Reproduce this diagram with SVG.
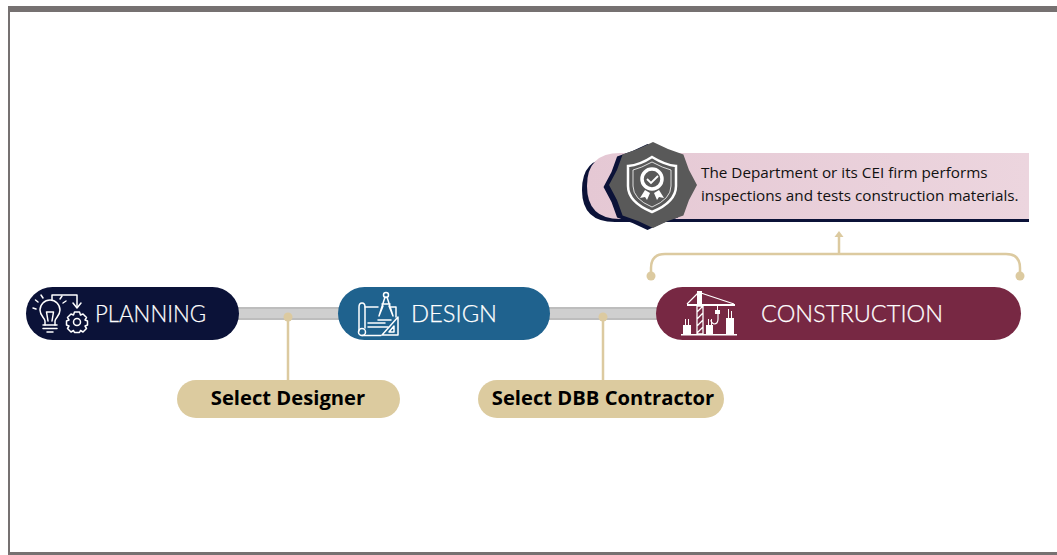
<svg xmlns="http://www.w3.org/2000/svg" width="1057" height="555" viewBox="0 0 1057 555">
<style>
.bar{fill:#cfcfcf;stroke:#bdbdbd;stroke-width:2}
.gold{fill:none;stroke:#dccaa0;stroke-width:2.5}
.dot{fill:#dccaa0}
.ic{fill:none;stroke:#fff;stroke-width:1.5;stroke-linejoin:round;stroke-linecap:round}
.lbl{font-family:"Lato","Inter",sans-serif;font-weight:300;font-size:23.5px;fill:#fff;stroke:#fff;stroke-width:0.25}
.tag{font-family:"Open Sans","Noto Sans",sans-serif;font-weight:700;font-size:20.2px;fill:#000;text-anchor:middle}
.body{font-family:"Open Sans","Noto Sans",sans-serif;font-size:15.27px;fill:#111}
</style>
<defs>
<linearGradient id="pink" x1="0" x2="1" y1="0" y2="0"><stop offset="0" stop-color="#e5c8d4"/><stop offset="1" stop-color="#ecd5de"/></linearGradient>
<polygon id="star" points="0,-43 15,-36 30.400,-30.400 36,-15 44,0 36,15 30.400,30.400 15,36 0,43 -15,36 -30.400,30.400 -36,15 -44,0 -36,-15 -30.400,-30.400 -15,-36"/>
</defs>
<rect width="1057" height="555" fill="#fff"/>
<g id="frame" fill="#767171">
<rect x="8" y="6" width="1049" height="6"/>
<rect x="8" y="6" width="2" height="549"/>
<rect x="8" y="552" width="1049" height="3"/>
</g>
<g id="connectors">
<rect class="bar" x="230" y="308" width="120" height="11"/>
<rect class="bar" x="540" y="308" width="125" height="11"/>
<path class="gold" d="M288 317V381M603 317V381"/>
<circle class="dot" cx="288" cy="317" r="4.500"/>
<circle class="dot" cx="603" cy="317" r="4.500"/>
<path class="gold" d="M651 276V268Q651 254 665 254H1006Q1020 254 1020 268V276M839 254V236"/>
<circle class="dot" cx="651" cy="276" r="4.500"/>
<circle class="dot" cx="1020" cy="276" r="4.500"/>
<path class="dot" d="M839 231L843.500 237H834.500Z"/>
</g>
<g id="node-planning">
<rect x="26" y="287" width="213" height="53" rx="26.500" fill="#0b1238"/>
<g class="ic">
<path d="M45 325V321C45 318 40 316 40 310A10 10 0 0 1 60 310C60 316 55 318 55 321V325"/>
<path d="M43 325H57M43 328.500H57M47 332H53M48 321L46.500 312H53.500L52 321"/>
<path d="M36 309L33 308M38 302L35.500 300M43 298L41 295M60 299L62 296M63 303L66 301"/>
<path d="M52 300V295H77V307"/>
<path d="M73 303L77 308L81 303"/>
<circle cx="77" cy="322" r="3.500"/>
<path d="M74.500 312H79.500L80.500 315L83 314L86.500 317.500L85 320L87.500 321V325L85 326L86.500 328.500L83 332L80.500 330.500L79.500 332.500H74.500L73.500 330.500L71 332L67.500 328.500L69 326L66.500 325V321L69 320L67.500 317.500L71 314L73.500 315Z"/>
</g>
<text class="lbl" x="95" y="322" textLength="111" lengthAdjust="spacingAndGlyphs">PLANNING</text>
</g>
<g id="node-design">
<rect x="338" y="287" width="212" height="53" rx="26.500" fill="#1f628e"/>
<g class="ic">
<path d="M359 331V307Q359 303 362 303Q365 303 365 307V328"/>
<path d="M365 307H378M391 307H396V317"/>
<circle cx="362" cy="332" r="3.500"/>
<path d="M362 335.500H381M368 323H385M378 320H391M368 327H388"/>
<circle cx="386" cy="295" r="2.500"/>
<path d="M385 297L379 316L383 306M387 297L393 316L389 306M382 304H390"/>
<path d="M398 317V335H382ZM394 326V332H389Z"/>
</g>
<text class="lbl" x="411" y="322" textLength="86" lengthAdjust="spacingAndGlyphs">DESIGN</text>
</g>
<g id="node-construction">
<rect x="656" y="287" width="365" height="53" rx="26.500" fill="#772843"/>
<g fill="#fff">
<rect x="681" y="334" width="56" height="1.500"/>
<rect x="683" y="325" width="8" height="9"/>
<rect x="706" y="325" width="7" height="9"/>
<rect x="726" y="318" width="8" height="16"/>
<rect x="685" y="319" width="1" height="6"/><rect x="688" y="319" width="1" height="6"/>
<rect x="708" y="319" width="1" height="6"/><rect x="711" y="319" width="1" height="6"/>
<rect x="728" y="309" width="1" height="9"/><rect x="731" y="311" width="1" height="7"/>
<rect x="687" y="304" width="48" height="2"/>
<rect x="697" y="291" width="5" height="13"/>
<rect x="717" y="306" width="1" height="5"/>
<rect x="715" y="310" width="5" height="4"/>
</g>
<path d="M697 306H703V334H697ZM697 312L703 306M697 319L703 313M697 326L703 320M697 333L703 327" fill="none" stroke="#fff" stroke-width="1.300"/>
<path d="M687 304L698 293M701 293L734 304M718 314V319Q718 324 714 324Q711 323 711 320" fill="none" stroke="#fff" stroke-width="1.200"/>
<text class="lbl" x="761" y="322" textLength="182" lengthAdjust="spacingAndGlyphs">CONSTRUCTION</text>
</g>
<g id="node-select-designer">
<rect x="177" y="380" width="223" height="38" rx="19" fill="#dccb9f"/>
<text class="tag" x="288" y="405">Select Designer</text>
</g>
<g id="node-select-contractor">
<rect x="478" y="380" width="246" height="38" rx="19" fill="#dccb9f"/>
<text class="tag" x="603" y="405">Select DBB Contractor</text>
</g>
<g id="node-callout">
<path d="M1029 222H615Q582 222 582 190Q582 158 612 158H1029Z" fill="#0b1238"/>
<path d="M1029 219H620Q587 219 587 186Q587 153 620 153H1029Z" fill="url(#pink)"/>
<use href="#star" x="647.500" y="187" fill="#0b1238"/>
<use href="#star" x="653" y="185" fill="#595959"/>
<path d="M652 157Q665 165 676 166V186Q676 202 652 212Q628 202 628 186V166Q640 165 652 157Z" fill="none" stroke="#fff" stroke-width="2.500"/>
<path d="M652 162Q663 168 671 170V186Q671 199 652 207Q633 199 633 186V170Q641 168 652 162Z" fill="none" stroke="#fff" stroke-width="0.800"/>
<circle cx="652" cy="179" r="10" fill="none" stroke="#fff" stroke-width="3.500"/>
<path d="M647 179L651 183L658 176" fill="none" stroke="#fff" stroke-width="1.800"/>
<path d="M645 190L640 198L645 197L647 200L650 193ZM659 190L664 198L659 197L657 200L654 193Z" fill="#fff"/>
<text class="body" x="701" y="178">The Department or its CEI firm performs</text>
<text class="body" x="701" y="201">inspections and tests construction materials.</text>
</g>
</svg>
